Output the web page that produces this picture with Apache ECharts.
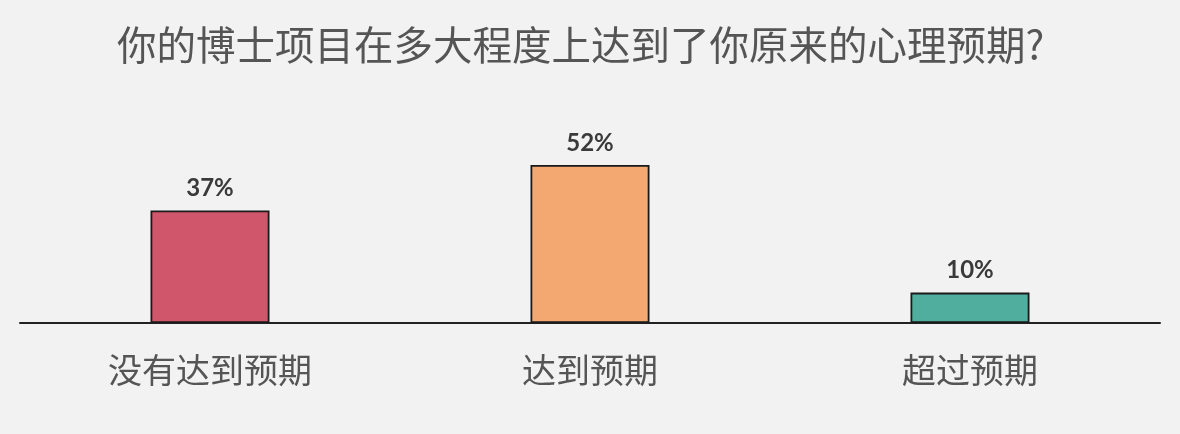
<!DOCTYPE html>
<html><head><meta charset="utf-8">
<script src="https://cdn.jsdelivr.net/npm/echarts@6/dist/echarts.min.js"></script>
<style>html,body{margin:0;padding:0;background:#f2f2f2}#c{width:1180px;height:434px}</style>
</head><body><div id="c"></div>
<script>
const titleText = '你的博士项目在多大程度上达到了你原来的心理预期?';
const categories = ['没有达到预期', '达到预期', '超过预期'];
const values = [37, 52, 10];
const barColors = ['#d0566b', '#f2a870', '#4fae9d'];

const chart = echarts.init(document.getElementById('c'));
chart.setOption({
  backgroundColor: '#f2f2f2',
  animation: false,
  title: {
    text: titleText, left: 112, top: 20,
    textStyle: { fontFamily: 'Noto Sans CJK SC', fontSize: 39.5, fontWeight: 'normal', color: '#555' }
  },
  grid: { left: 20, right: 20, top: 19, bottom: 111 },
  xAxis: {
    type: 'category', data: categories,
    axisLine: { lineStyle: { color: '#222', width: 2 } },
    axisTick: { show: false },
    axisLabel: { fontFamily: 'Noto Sans CJK SC', fontSize: 34, color: '#555', margin: 30 }
  },
  yAxis: { type: 'value', min: 0, max: 100, show: false, splitLine: { show: false } },
  series: [{
    type: 'bar', barWidth: 119,
    data: values.map((v, i) => ({ value: v, itemStyle: { color: barColors[i] } })),
    itemStyle: { borderColor: '#1a1a1a', borderWidth: 1.8 },
    label: {
      show: true, position: 'top', distance: 10, formatter: '{c}%',
      fontFamily: 'Lato', fontSize: 24, fontWeight: 'bold', color: '#3a3a3a'
    }
  }]
});
</script></body></html>
